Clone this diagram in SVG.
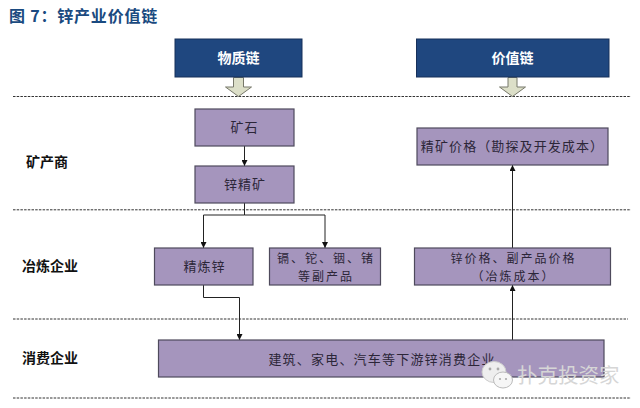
<svg xmlns="http://www.w3.org/2000/svg" width="640" height="408" viewBox="0 0 640 408">
<style>
text{font-family:"Noto Sans CJK SC","Liberation Sans",sans-serif}
.head rect{fill:#1f477f;stroke:#16305a;stroke-width:1}
.head text{fill:#fff;font-size:14px;font-weight:700;text-anchor:middle}
.box rect{fill:#a595bd;stroke:#4e4a5c;stroke-width:1.2}
.box text{fill:#2c2638;font-size:13px;text-anchor:middle}
.box text.sm{font-size:12px;letter-spacing:2px}
.lab{fill:#111;font-size:14px;font-weight:700}
.dash{stroke:#333;stroke-width:1;stroke-dasharray:2.5 1.2;fill:none}
.conn{stroke:#222;stroke-width:1;fill:none;marker-end:url(#ah)}
.hollow{fill:#dcdfc8;stroke:#77786a;stroke-width:1}
</style>
<defs>
<marker id="ah" markerUnits="userSpaceOnUse" markerWidth="7" markerHeight="6" refX="6" refY="3" orient="auto"><path d="M0 0L6 3L0 6Z" fill="#111"/></marker>
</defs>
<rect width="640" height="408" fill="#fff"/>
<text id="title" x="9" y="22" font-size="16" font-weight="700" letter-spacing="0.8" fill="#1a4a80">图 7&#xFF1A;锌产业价值链</text>
<g id="separators">
<path class="dash" d="M13 96.5H631"/>
<path class="dash" d="M13 209.8H631"/>
<path class="dash" d="M13 319H628"/>
<path class="dash" d="M13 398H631"/>
</g>
<g id="tier-labels">
<text id="label-mine" class="lab" x="26" y="167">矿产商</text>
<text id="label-smelt" class="lab" x="22" y="271">冶炼企业</text>
<text id="label-consume" class="lab" x="22" y="363">消费企业</text>
</g>
<g id="connectors">
<path class="hollow" d="M233.5 77.5H243.5V87H251.5L238.5 96.5L225.5 87H233.5Z"/>
<path class="hollow" d="M508 77.5H517V87H525.5L512.5 96.5L499.5 87H508Z"/>
<path class="conn" d="M244.500 146V166"/>
<path class="conn" d="M244.500 203V215H203.500V248"/>
<path class="conn" d="M244.500 215H325V248"/>
<path class="conn" d="M203.500 285V297.500H239.500V340"/>
<path class="conn" d="M512.500 340V285"/>
<path class="conn" d="M512.500 248V165"/>
</g>
<g id="node-material" class="head"><rect x="175" y="39" width="127" height="38"/><text x="238.500" y="63">物质链</text></g>
<g id="node-value" class="head"><rect x="416.500" y="39" width="192.500" height="38"/><text x="512.500" y="63">价值链</text></g>
<g id="node-ore" class="box"><rect x="195" y="109" width="99" height="37"/><text x="244.500" y="132" letter-spacing="1">矿石</text></g>
<g id="node-concentrate" class="box"><rect x="195" y="166" width="99" height="37"/><text x="245" y="189" letter-spacing="1">锌精矿</text></g>
<g id="node-concentrate-price" class="box"><rect x="417" y="128" width="191" height="37"/><text x="512.500" y="151" letter-spacing="1.100">精矿价格&#xFF08;勘探及开发成本&#xFF09;</text></g>
<g id="node-refined" class="box"><rect x="154.500" y="248" width="98.500" height="37"/><text x="204.500" y="271" letter-spacing="1">精炼锌</text></g>
<g id="node-byproducts" class="box"><rect x="269.500" y="248" width="111" height="37"/><text class="sm" x="326" y="262.500">镉、铊、铟、锗</text><text class="sm" x="326" y="280.500">等副产品</text></g>
<g id="node-zinc-price" class="box"><rect x="414.500" y="248" width="196" height="37"/><text class="sm" x="513.500" y="262.500">锌价格、副产品价格</text><text class="sm" x="513.500" y="280.500">&#xFF08;冶炼成本&#xFF09;</text></g>
<g id="node-consumers" class="box"><rect x="158.500" y="340" width="445.500" height="37"/><text x="382" y="364" letter-spacing="1.200">建筑、家电、汽车等下游锌消费企业</text></g>
<g id="watermark">
<ellipse cx="494" cy="372" rx="12" ry="10.500" fill="#eee" stroke="#ccc"/>
<ellipse cx="503" cy="380" rx="9.500" ry="8" fill="#f6f6f6" stroke="#bbb"/>
<circle cx="490" cy="369" r="1.400" fill="#aaa"/><circle cx="498" cy="369" r="1.400" fill="#aaa"/>
<circle cx="500" cy="379" r="1.100" fill="#aaa"/><circle cx="506" cy="379" r="1.100" fill="#aaa"/>
<text x="517" y="383" font-size="20.500" fill="#d6d6d6">扑克投资家</text>
</g>
</svg>
